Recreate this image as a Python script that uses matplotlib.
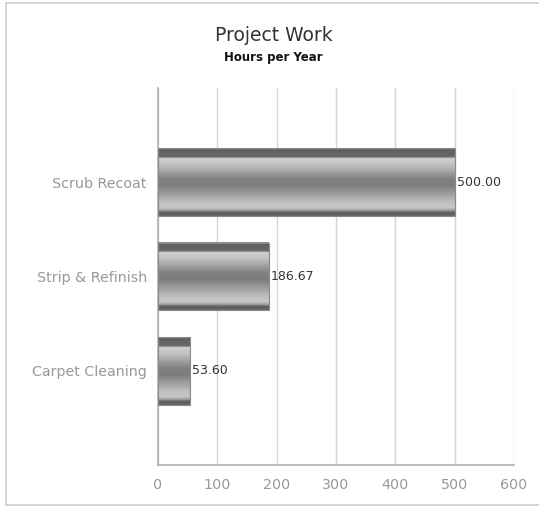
import matplotlib
matplotlib.use("Agg")
import matplotlib.pyplot as plt
import numpy as np
from matplotlib.colors import LinearSegmentedColormap
from matplotlib.patches import Rectangle
from matplotlib.lines import Line2D

categories = ["Carpet Cleaning", "Strip & Refinish", "Scrub Recoat"]
hours = [53.60, 186.67, 500.00]
x_ticks = [0, 100, 200, 300, 400, 500, 600]

fig = plt.figure(figsize=(5.39, 5.08), dpi=100)
ax = fig.add_axes([0.2931, 0.0846, 0.6605, 0.742])

# vertical gradient profile of a bar (top -> bottom)
stops = [
    (0.00, "#a0a0a0"), (0.02, "#5e5e5e"), (0.13, "#686868"), (0.15, "#d0d0d0"),
    (0.25, "#c0c0c0"), (0.45, "#828282"), (0.55, "#7c7c7c"), (0.80, "#c0c0c0"),
    (0.88, "#c6c6c6"), (0.92, "#9c9c9c"), (0.95, "#5a5a5a"), (1.00, "#6a6a6a"),
]
cmap = LinearSegmentedColormap.from_list("bar", stops)
grad = np.linspace(0, 1, 256).reshape(-1, 1)

bh = 0.72
for i, (cat, v) in enumerate(zip(categories, hours)):
    ax.imshow(grad, cmap=cmap, aspect="auto", extent=[0, v, i - bh / 2, i + bh / 2],
              origin="upper", zorder=3, interpolation="bilinear")
    ax.add_patch(Rectangle((0, i - bh / 2), v, bh, fill=False, edgecolor="#8a8a8a",
                           linewidth=0.8, zorder=4))
    ax.text(v + 4, i, f"{v:.2f}", va="center", ha="left", fontsize=9,
            color="#333333", zorder=5)

ax.set_xlim(0, 600)
ax.set_ylim(-1, 3)
ax.set_xticks(x_ticks)
ax.set_xticklabels([str(t) for t in x_ticks])
ax.set_yticks(range(len(categories)))
ax.set_yticklabels(categories)
ax.tick_params(axis="both", length=0, colors="#999999", labelsize=10.3, pad=8)
ax.tick_params(axis="x", pad=9)
ax.grid(axis="x", color="#d4d4d4", linewidth=1.0, zorder=0)
ax.set_axisbelow(True)
for s in ["top", "right"]:
    ax.spines[s].set_visible(False)
for s in ["left", "bottom"]:
    ax.spines[s].set_color("#b0b0b0")
    ax.spines[s].set_linewidth(1.2)

fig.text(0.508, 0.931, "Project Work", ha="center", va="center", fontsize=13.5,
         color="#333333")
fig.text(0.507, 0.887, "Hours per Year", ha="center", va="center", fontsize=8.5,
         fontweight="bold", color="#111111")

# frame lines: top, left, bottom (open on the right)
x0, y0, y1 = 6 / 539, 3 / 508, 1 - 3 / 508
for xs, ys in [([x0, 1], [y1, y1]), ([x0, x0], [y0, y1]), ([x0, 1], [y0, y0])]:
    fig.add_artist(Line2D(xs, ys, transform=fig.transFigure, color="#d0d0d0", linewidth=1.2))

fig.savefig("out.png", dpi=100)
